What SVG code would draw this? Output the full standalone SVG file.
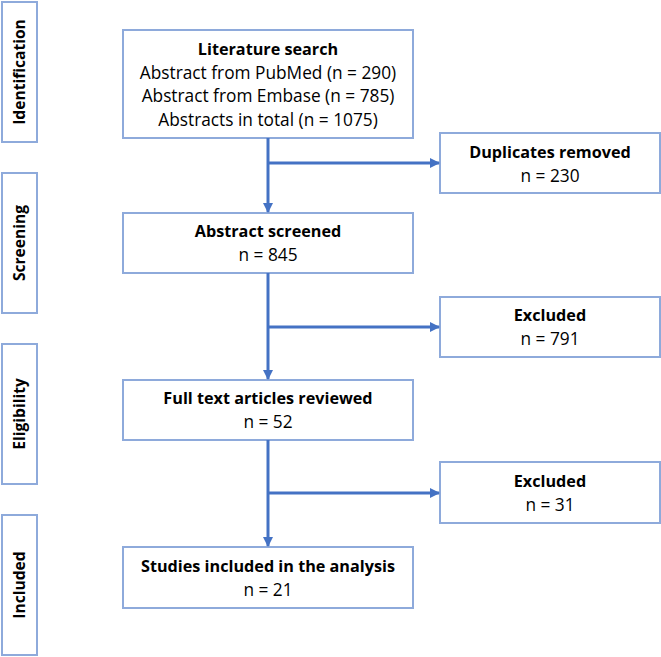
<svg xmlns="http://www.w3.org/2000/svg" width="661" height="657" viewBox="0 0 661 657">
<defs>
<style>
.box{fill:#fff;stroke:#8eaadb;stroke-width:2}
.t{font-family:"Open Sans","Liberation Sans",Arial,sans-serif;font-size:17.3px;fill:#000;text-anchor:middle}
.b{font-weight:bold;font-size:16.2px}
.side{font-family:"Open Sans","Liberation Sans",Arial,sans-serif;font-size:15.6px;font-weight:bold;fill:#000;text-anchor:middle}
.c{stroke:#4472c4;stroke-width:3;fill:none}
</style>
<marker id="ah" markerWidth="10" markerHeight="10" refX="9" refY="5" orient="auto" markerUnits="userSpaceOnUse">
<path d="M0,0 L10,5 L0,10 Z" fill="#4472c4"/>
</marker>
</defs>
<rect width="661" height="657" fill="#fff"/>
<g id="stage-identification"><rect class="box" x="2" y="2" width="35" height="140"/><text class="side" transform="translate(25,72) rotate(-90)">Identification</text></g>
<g id="stage-screening"><rect class="box" x="2" y="173" width="35" height="140"/><text class="side" transform="translate(25,243) rotate(-90)">Screening</text></g>
<g id="stage-eligibility"><rect class="box" x="2" y="344" width="35" height="140"/><text class="side" transform="translate(25,414) rotate(-90)">Eligibility</text></g>
<g id="stage-included"><rect class="box" x="2" y="515" width="35" height="140"/><text class="side" transform="translate(25,585) rotate(-90)">Included</text></g>
<g id="literature"><rect class="box" x="123" y="30" width="290" height="108"/>
<text class="t b" x="268" y="55">Literature search</text>
<text class="t" x="268" y="79">Abstract from PubMed (n = 290)</text>
<text class="t" x="268" y="102">Abstract from Embase (n = 785)</text>
<text class="t" x="268" y="126">Abstracts in total (n = 1075)</text></g>
<g id="duplicates"><rect class="box" x="440" y="133" width="220" height="60"/>
<text class="t b" x="550" y="158">Duplicates removed</text><text class="t" x="550" y="182">n = 230</text></g>
<g id="screened"><rect class="box" x="123" y="213" width="290" height="60"/>
<text class="t b" x="268" y="237">Abstract screened</text><text class="t" x="268" y="261">n = 845</text></g>
<g id="excluded1"><rect class="box" x="440" y="297" width="220" height="60"/>
<text class="t b" x="550" y="321">Excluded</text><text class="t" x="550" y="345">n = 791</text></g>
<g id="fulltext"><rect class="box" x="123" y="380" width="290" height="60"/>
<text class="t b" x="268" y="404">Full text articles reviewed</text><text class="t" x="268" y="428">n = 52</text></g>
<g id="excluded2"><rect class="box" x="440" y="462" width="220" height="61"/>
<text class="t b" x="550" y="487">Excluded</text><text class="t" x="550" y="511">n = 31</text></g>
<g id="included"><rect class="box" x="123" y="547" width="290" height="61"/>
<text class="t b" x="268" y="572">Studies included in the analysis</text><text class="t" x="268" y="596">n = 21</text></g>
<g id="connectors">
<line class="c" x1="268" y1="138" x2="268" y2="212" marker-end="url(#ah)"/>
<line class="c" x1="268" y1="163" x2="439" y2="163" marker-end="url(#ah)"/>
<line class="c" x1="268" y1="273" x2="268" y2="379" marker-end="url(#ah)"/>
<line class="c" x1="268" y1="327" x2="439" y2="327" marker-end="url(#ah)"/>
<line class="c" x1="268" y1="440" x2="268" y2="546" marker-end="url(#ah)"/>
<line class="c" x1="268" y1="493" x2="439" y2="493" marker-end="url(#ah)"/>
</g>
</svg>
